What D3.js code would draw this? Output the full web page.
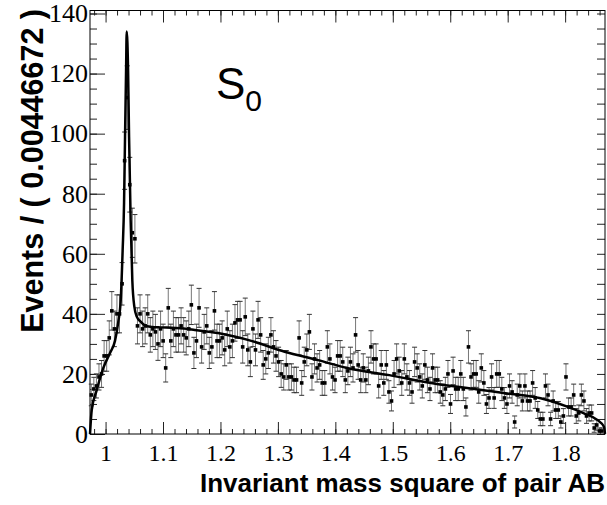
<!DOCTYPE html>
<html>
<head>
<meta charset="utf-8">
<script src="https://cdn.jsdelivr.net/npm/d3@7"></script>
<style>
  body { margin: 0; background: #fff; }
</style>
</head>
<body>
<div id="chart"></div>
<script>
// histogram of the invariant mass square, 200 bins
const binWidth = 0.00446672;
const xRange = [0.9729, 1.8694];
const counts = [
  13, 15, 16, 19, 20, 26, 26, 32, 41, 35, 40, 40, 50,
  91, 112, 83, 67, 65,
  36, 40, 35, 36, 40, 33, 35, 34, 30, 35, 31, 22, 42, 31, 35, 33,
  33, 36, 33, 32, 35, 43, 27, 31, 42, 29, 34, 36, 27, 29, 41, 31,
  31, 32, 28, 35, 29, 31, 37, 38, 38, 29, 39, 28, 24, 35, 28, 38, 33, 23, 25, 27,
  33, 29, 26, 24, 20, 19, 23, 19, 19, 18, 18, 32, 17, 24, 28, 34, 19, 25, 22, 23,
  17, 17, 29, 25, 19, 18, 26, 26, 24, 18,
  21, 24, 22, 33, 23, 18, 22, 18, 21, 29, 25, 25, 16, 23, 17, 23, 14, 11, 20, 25,
  21, 17, 25, 19, 17, 14, 24, 22, 19, 16, 23, 18, 15, 22, 18, 18, 14, 13, 15, 20,
  10, 21, 15, 15, 20, 15, 9, 29, 19, 20,
  20, 14, 22, 17, 10, 12, 19, 12, 20, 20, 15, 12, 10, 16, 14, 4, 13, 16, 11, 16,
  11, 11, 17, 12, 8, 5, 5, 16, 13, 5, 11, 8, 8, 4, 6, 19, 9, 9, 13, 6,
  7, 13, 11, 6, 7, 7, 2, 3, 1, 1
];

// fit curve
const fitX = [0.9729, 0.9759, 0.9846, 0.9961, 1.0077, 1.0164, 1.0222, 1.0264, 1.0297,
  1.0322, 1.0339, 1.0357, 1.0368, 1.0392, 1.0409, 1.0437, 1.0466, 1.0501, 1.0545,
  1.0611, 1.0716, 1.0948, 1.1144, 1.1413, 1.1552, 1.1957, 1.2537, 1.3118, 1.3698,
  1.4220, 1.4939, 1.5694, 1.6448, 1.6993, 1.7574, 1.8037, 1.8328, 1.8560, 1.8676, 1.8694];
const fitY = [0, 8, 14.6, 22, 27, 31, 37.4, 44.6, 61,
  77, 99, 121, 134, 121, 99, 71, 51, 42.4, 39,
  37.4, 35.9, 35.5, 35.4, 35, 34.6, 33.6, 31, 27.4, 24.6,
  21.9, 19.6, 16.9, 14.9, 13.5, 11.9, 9.1, 6.9, 4.7, 2.4, 0];

const xTicks = [1, 1.1, 1.2, 1.3, 1.4, 1.5, 1.6, 1.7, 1.8];
const yTicks = [0, 20, 40, 60, 80, 100, 120, 140];

const W = 607, H = 505;
const margin = { top: 10.5, right: 2, bottom: 71, left: 90 };
const width = W - margin.left - margin.right,
  height = H - margin.top - margin.bottom;

const x = d3.scaleLinear().domain(xRange).range([0, width]);
const y = d3.scaleLinear().domain([0, 141]).range([height, 0]);

const svg = d3.select('#chart')
  .append('svg')
  .attr('width', W)
  .attr('height', H)
  .append('g')
  .attr('transform', `translate(${margin.left},${margin.top})`);

// minor ticks
const xMinor = d3.range(0.98, 1.87, 0.02).filter(v => v >= xRange[0]);
const yMinor = d3.range(0, 141, 5);

const serif = '"Liberation Serif", "DejaVu Serif", "Times New Roman", serif';
function styleAxis(size) {
  return function (g) {
    g.attr('font-family', serif).attr('font-size', size);
    g.select('.domain').remove();
    g.selectAll('.tick line').attr('stroke', '#222');
    g.selectAll('.tick text')
      .style('font-family', serif)
      .style('font-size', size + 'px')
      .attr('fill', '#000');
  };
}

// bottom axis
svg.append('g')
  .attr('transform', `translate(0,${height})`)
  .call(d3.axisBottom(x).tickValues(xMinor).tickSize(-5).tickFormat(''))
  .call(styleAxis(23));
svg.append('g')
  .attr('class', 'x axis')
  .attr('transform', `translate(0,${height})`)
  .call(d3.axisBottom(x).tickValues(xTicks).tickSize(-12).tickPadding(10).tickFormat(d3.format('')))
  .call(styleAxis(24));

// top axis
svg.append('g')
  .call(d3.axisTop(x).tickValues(xMinor).tickSize(-5).tickFormat(''))
  .call(styleAxis(23));
svg.append('g')
  .call(d3.axisTop(x).tickValues(xTicks).tickSize(-12).tickFormat(''))
  .call(styleAxis(23));

// left axis
svg.append('g')
  .call(d3.axisLeft(y).tickValues(yMinor).tickSize(-7).tickFormat(''))
  .call(styleAxis(23));
svg.append('g')
  .attr('class', 'y axis')
  .call(d3.axisLeft(y).tickValues(yTicks).tickSize(-15).tickPadding(2).tickFormat(d3.format('')))
  .call(styleAxis(26));

// right axis
svg.append('g')
  .attr('transform', `translate(${width},0)`)
  .call(d3.axisRight(y).tickValues(yMinor).tickSize(-8).tickFormat(''))
  .call(styleAxis(23));

// frame
svg.append('rect')
  .attr('x', 0).attr('y', 0)
  .attr('width', width).attr('height', height)
  .attr('fill', 'none')
  .attr('stroke', '#000')
  .attr('stroke-width', 1);

// data points with errors
const bins = counts.map((c, i) => ({
  x: xRange[0] + (i + 0.5) * binWidth,
  n: c,
  err: Math.sqrt(c)
}));

const pts = svg.append('g');
pts.selectAll('.ebar')
  .data(bins)
  .enter().append('line')
  .attr('class', 'ebar')
  .attr('x1', d => x(d.x)).attr('x2', d => x(d.x))
  .attr('y1', d => y(Math.max(0, d.n - d.err)))
  .attr('y2', d => y(d.n + d.err))
  .attr('stroke', '#777')
  .attr('stroke-width', 1);

pts.selectAll('.cap')
  .data(bins.flatMap(d => [d.n - d.err, d.n + d.err].filter(v => v > 0).map(v => ({ x: d.x, v }))))
  .enter().append('line')
  .attr('class', 'cap')
  .attr('x1', d => x(d.x) - 2.5).attr('x2', d => x(d.x) + 2.5)
  .attr('y1', d => y(d.v)).attr('y2', d => y(d.v))
  .attr('stroke', '#333')
  .attr('stroke-width', 1);

pts.selectAll('.marker')
  .data(bins)
  .enter().append('rect')
  .attr('class', 'marker')
  .attr('x', d => x(d.x) - 1.8)
  .attr('y', d => y(d.n) - 1.8)
  .attr('width', 3.6).attr('height', 3.6)
  .attr('fill', '#000');

// fit curve
const valueline = d3.line()
  .x(function (d) { return x(d[0]); })
  .y(function (d) { return y(d[1]); })
  .curve(d3.curveMonotoneX);

svg.append('path')
  .attr('class', 'line line1')
  .style('stroke', 'black')
  .style('stroke-width', 2.5)
  .style('fill', 'none')
  .attr('d', valueline(fitX.map((v, i) => [v, fitY[i]])));

// titles
const sans = '"Liberation Sans", Arial, "DejaVu Sans", sans-serif';
const root = d3.select('svg');
root.append('text')
  .attr('x', 605).attr('y', 492)
  .attr('text-anchor', 'end')
  .style('font-family', sans)
  .style('font-weight', 'bold')
  .style('font-size', '26px')
  .text('Invariant mass square of pair AB');

root.append('text')
  .attr('transform', 'translate(43,9) rotate(-90)')
  .attr('text-anchor', 'end')
  .style('font-family', sans)
  .style('font-weight', 'bold')
  .style('font-size', '30.5px')
  .text('Events / ( 0.00446672 )');

const lab = root.append('text')
  .attr('x', 216).attr('y', 99)
  .style('font-family', sans)
  .style('font-style', 'normal')
  .style('font-size', '44px');
lab.append('tspan').text('S');
lab.append('tspan').attr('dy', 12).style('font-size', '30px').text('0');
</script>
</body>
</html>
